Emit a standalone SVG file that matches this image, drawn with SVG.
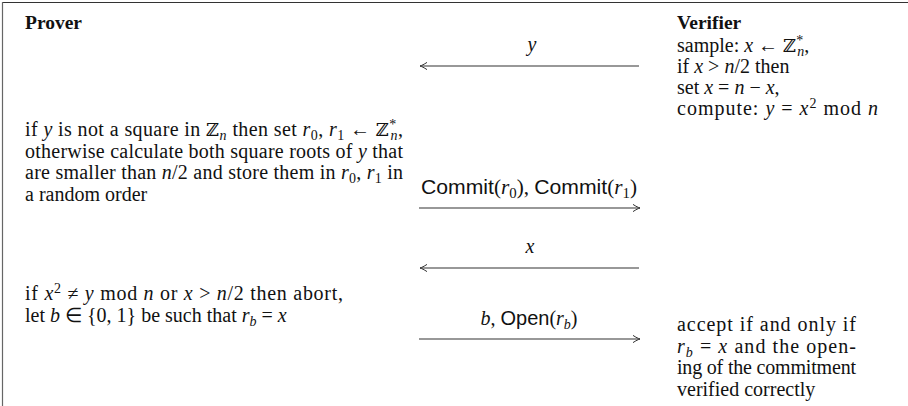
<svg xmlns="http://www.w3.org/2000/svg" width="908" height="406" viewBox="0 0 908 406">
<style>
.t{font-family:"Liberation Serif","Times New Roman",serif;font-size:20px;fill:#111}
.h{font-weight:bold;font-size:19.5px}
.i{font-style:italic}
.s{font-family:"Liberation Sans",Arial,sans-serif;font-style:normal}
.z{font-family:"DejaVu Serif","DejaVu Sans",serif;font-style:normal;font-size:18px}
.sm{font-size:14px}
.lab{text-anchor:middle}
.ln{stroke:#333;stroke-width:1.2;fill:none}
</style>
<defs>
<marker id="ah" markerUnits="userSpaceOnUse" markerWidth="12" markerHeight="10" viewBox="-9 -5 10 10" refX="0" refY="0" orient="auto">
<path d="M-7,-3.6 C-4,-1.6 -1.6,-0.5 0,0 C-1.6,0.5 -4,1.6 -7,3.6" stroke="#333" stroke-width="1" fill="none"/>
</marker>
</defs>
<g id="frame">
<line class="ln" x1="2" y1="2.5" x2="908" y2="2.5"/>
<line x1="2.5" y1="2" x2="2.5" y2="406" stroke="#666" stroke-width="1.2"/>
</g>
<g id="prover">
<text class="t h" x="25" y="29">Prover</text>
<text class="t" x="25" y="136" textLength="378" lengthAdjust="spacing">if <tspan class="i">y</tspan> is not a square in <tspan class="z">ℤ</tspan><tspan class="i sm" dy="4">n</tspan><tspan dy="-4"> then set </tspan><tspan class="i">r</tspan><tspan class="sm" dy="4">0</tspan><tspan dy="-4">, </tspan><tspan class="i">r</tspan><tspan class="sm" dy="4">1</tspan><tspan dy="-4"> ← </tspan><tspan class="z">ℤ</tspan><tspan class="sm" dy="-7">*</tspan><tspan class="i sm" dx="-6" dy="11">n</tspan><tspan dy="-4">,</tspan></text>
<text class="t" x="25" y="157.5" textLength="378" lengthAdjust="spacing">otherwise calculate both square roots of <tspan class="i">y</tspan> that</text>
<text class="t" x="25" y="179" textLength="378" lengthAdjust="spacing">are smaller than <tspan class="i">n</tspan>/2 and store them in <tspan class="i">r</tspan><tspan class="sm" dy="4">0</tspan><tspan dy="-4">, </tspan><tspan class="i">r</tspan><tspan class="sm" dy="4">1</tspan><tspan dy="-4"> in</tspan></text>
<text class="t" x="25" y="200.5">a random order</text>
<text class="t" x="25" y="300" textLength="318" lengthAdjust="spacing">if <tspan class="i">x</tspan><tspan class="sm" dy="-7">2</tspan><tspan dy="7"> ≠ </tspan><tspan class="i">y</tspan> mod <tspan class="i">n</tspan> or <tspan class="i">x</tspan> &gt; <tspan class="i">n</tspan>/2 then abort,</text>
<text class="t" x="25" y="321.5">let <tspan class="i">b</tspan> ∈ {0, 1} be such that <tspan class="i">r</tspan><tspan class="i sm" dy="4">b</tspan><tspan dy="-4"> = </tspan><tspan class="i">x</tspan></text>
</g>
<g id="verifier">
<text class="t h" x="677" y="29">Verifier</text>
<text class="t" x="677" y="52">sample: <tspan class="i">x</tspan> ← <tspan class="z">ℤ</tspan><tspan class="sm" dy="-7">*</tspan><tspan class="i sm" dx="-6" dy="11">n</tspan><tspan dy="-4">,</tspan></text>
<text class="t" x="677" y="73">if <tspan class="i">x</tspan> &gt; <tspan class="i">n</tspan>/2 then</text>
<text class="t" x="677" y="94">set <tspan class="i">x</tspan> = <tspan class="i">n</tspan> − <tspan class="i">x</tspan>,</text>
<text class="t" x="677" y="115" textLength="201" lengthAdjust="spacing">compute: <tspan class="i">y</tspan> = <tspan class="i">x</tspan><tspan class="sm" dy="-7">2</tspan><tspan dy="7"> mod </tspan><tspan class="i">n</tspan></text>
<text class="t" x="677" y="331" textLength="179" lengthAdjust="spacing">accept if and only if</text>
<text class="t" x="677" y="352.5" textLength="179" lengthAdjust="spacing"><tspan class="i">r</tspan><tspan class="i sm" dy="4">b</tspan><tspan dy="-4"> = </tspan><tspan class="i">x</tspan> and the open-</text>
<text class="t" x="677" y="374" textLength="179" lengthAdjust="spacing">ing of the commitment</text>
<text class="t" x="677" y="395.5">verified correctly</text>
</g>
<g id="connectors">
<line class="ln" x1="639" y1="66" x2="420" y2="66" marker-end="url(#ah)"/>
<text class="t i lab" x="532" y="51">y</text>
<line class="ln" x1="419" y1="208" x2="640" y2="208" marker-end="url(#ah)"/>
<text class="t lab" x="529" y="194" textLength="216" lengthAdjust="spacingAndGlyphs"><tspan class="s">Commit</tspan>(<tspan class="i">r</tspan><tspan class="sm" dy="4">0</tspan><tspan dy="-4">), </tspan><tspan class="s">Commit</tspan>(<tspan class="i">r</tspan><tspan class="sm" dy="4">1</tspan><tspan dy="-4">)</tspan></text>
<line class="ln" x1="639" y1="268" x2="420" y2="268" marker-end="url(#ah)"/>
<text class="t i lab" x="530" y="253">x</text>
<line class="ln" x1="419" y1="339" x2="640" y2="339" marker-end="url(#ah)"/>
<text class="t lab" x="529" y="325"><tspan class="i">b</tspan>, <tspan class="s">Open</tspan>(<tspan class="i">r</tspan><tspan class="i sm" dy="4">b</tspan><tspan dy="-4">)</tspan></text>
</g>
</svg>
